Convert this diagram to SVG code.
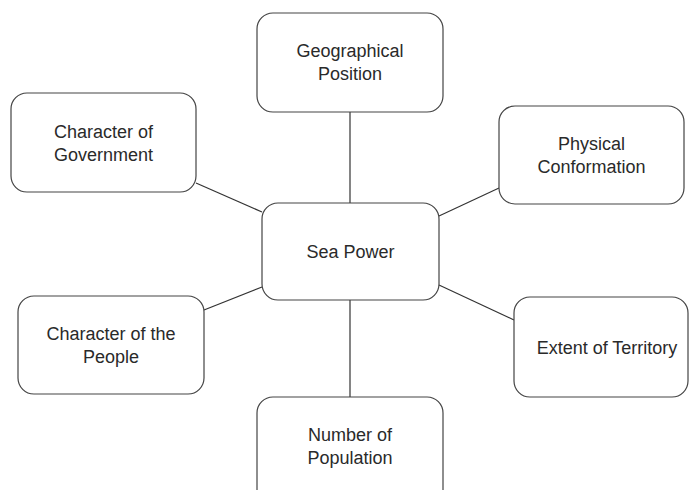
<svg xmlns="http://www.w3.org/2000/svg" width="689" height="490" viewBox="0 0 689 490">
<style>
.box{fill:#fff;stroke:#444;stroke-width:1.2}
.lbl{font-family:"Liberation Sans",Arial,sans-serif;font-size:18px;fill:#2a2a2a;text-anchor:middle}
.con line{stroke:#333;stroke-width:1.2}
</style>
<rect width="689" height="490" fill="#fff"/>
<g class="con" id="connectors">
<line x1="350" y1="112" x2="350" y2="203"/>
<line x1="350" y1="300" x2="350" y2="397"/>
<line x1="196" y1="183" x2="262" y2="212"/>
<line x1="499" y1="188" x2="439" y2="216"/>
<line x1="204" y1="310" x2="262" y2="287"/>
<line x1="514" y1="320" x2="439" y2="285"/>
</g>
<g id="geo"><rect class="box" x="257" y="13" width="186" height="99" rx="16"/>
<text class="lbl" x="350" y="57">Geographical</text><text class="lbl" x="350" y="80">Position</text></g>
<g id="gov"><rect class="box" x="11" y="93" width="185" height="99" rx="16"/>
<text class="lbl" x="103.5" y="138">Character of</text><text class="lbl" x="103.5" y="161">Government</text></g>
<g id="phys"><rect class="box" x="499" y="106" width="185" height="98" rx="16"/>
<text class="lbl" x="591.5" y="150">Physical</text><text class="lbl" x="591.5" y="173">Conformation</text></g>
<g id="sea"><rect class="box" x="262" y="203" width="177" height="97" rx="16"/>
<text class="lbl" x="350.5" y="258">Sea Power</text></g>
<g id="people"><rect class="box" x="18" y="296" width="186" height="98" rx="16"/>
<text class="lbl" x="111" y="340">Character of the</text><text class="lbl" x="111" y="363">People</text></g>
<g id="extent"><rect class="box" x="514" y="297" width="174" height="100" rx="16"/>
<text class="lbl" x="607" y="354">Extent of Territory</text></g>
<g id="pop"><rect class="box" x="257" y="397" width="186" height="110" rx="16"/>
<text class="lbl" x="350" y="441">Number of</text><text class="lbl" x="350" y="464">Population</text></g>
</svg>
